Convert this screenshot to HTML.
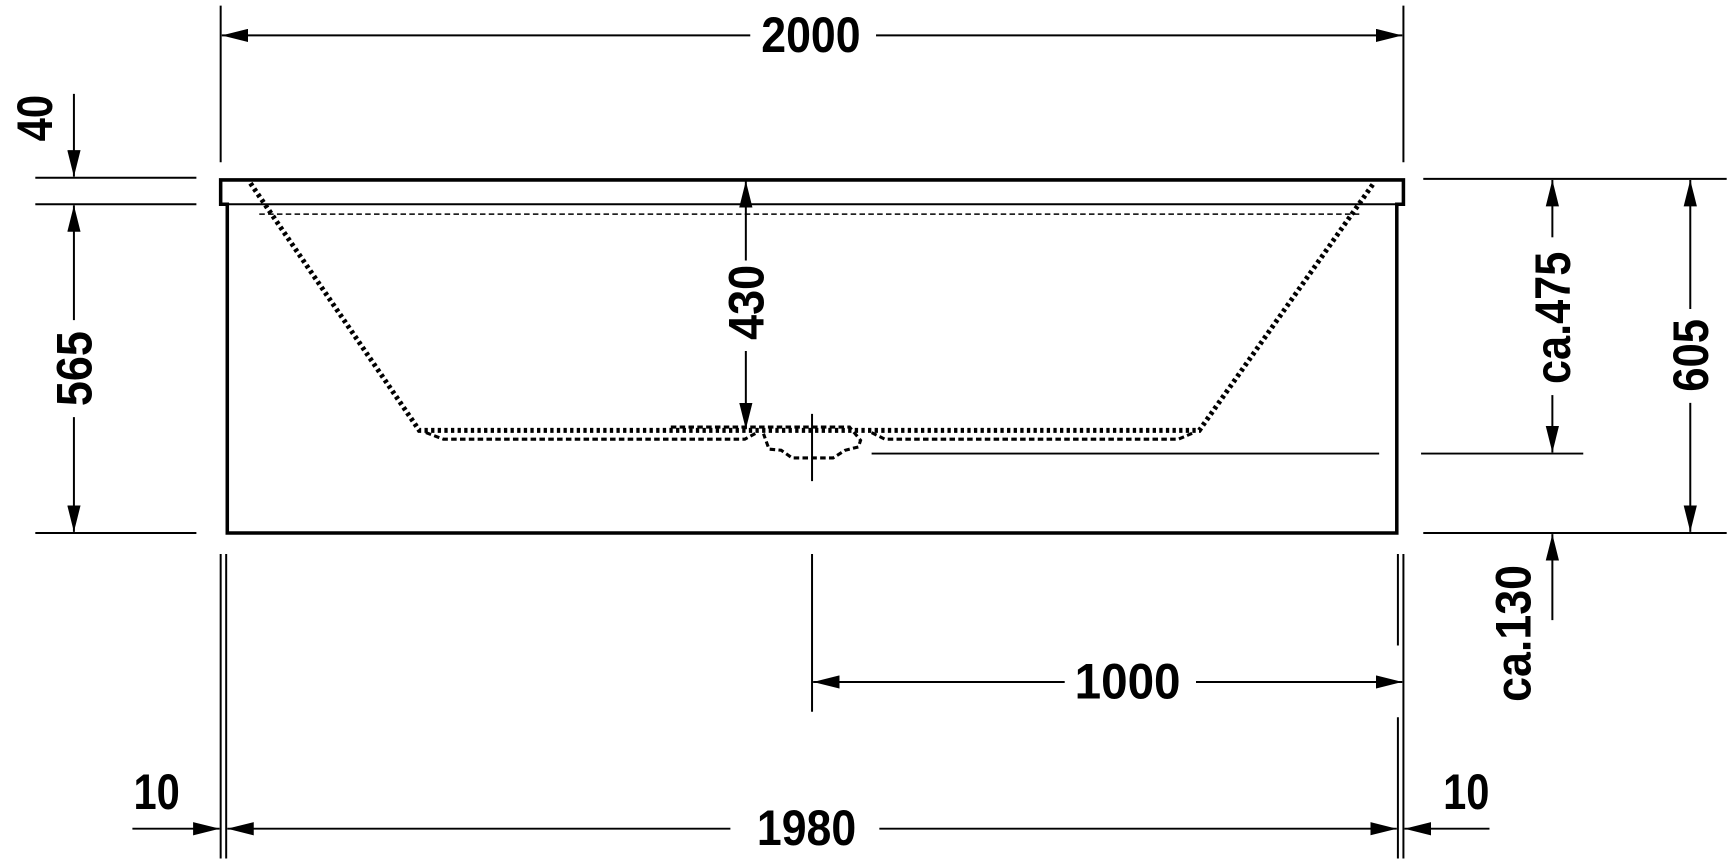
<!DOCTYPE html>
<html><head><meta charset="utf-8"><style>
html,body{margin:0;padding:0;background:#fff;}
svg{display:block;}
text{font-family:"Liberation Sans",sans-serif;font-weight:bold;font-size:45px;fill:#000;}
</style></head><body>
<svg width="1730" height="863" viewBox="0 0 1568 782" xmlns="http://www.w3.org/2000/svg">
<defs>
<marker id="a" viewBox="0 0 24 12" refX="24" refY="6" markerWidth="24" markerHeight="12" markerUnits="userSpaceOnUse" orient="auto-start-reverse">
<path d="M0,0 L24,6 L0,12 z" fill="#000"/>
</marker>
</defs>
<g stroke="#000" fill="none" stroke-width="1.8">
<line x1="200" y1="5" x2="200" y2="147"/>
<line x1="1272" y1="5" x2="1272" y2="147"/>
<line x1="201" y1="32" x2="680" y2="32" marker-start="url(#a)"/>
<line x1="794" y1="32" x2="1271" y2="32" marker-end="url(#a)"/>
<path d="M200,185 L200,163 L1272,163 L1272,185 L1266,185 L1266,483 L206,483 L206,185 Z" stroke-width="3.2"/>
<line x1="206" y1="185" x2="1266" y2="185" stroke-width="1.8"/>
<line x1="235" y1="194" x2="1232" y2="194" stroke-dasharray="5,3" stroke-width="1.3"/>
<path d="M227,166 L380,390 L1087,390 L1245,166" stroke-width="4.5" stroke-dasharray="3,3"/>
<path d="M386,392 L402,398 L675,398 L686,392 M790,392 L802,398 L1068,398 L1082,392" stroke-width="2.8" stroke-dasharray="5,3"/>
<path d="M608,387 L770,387 L780,399 L778,405 L766,408 L755,415 L718,415 L708,408 L697,407 L692,393" stroke-width="2.8" stroke-dasharray="5,3"/>
<line x1="736" y1="375" x2="736" y2="436" stroke-width="1.8"/>
<line x1="790" y1="411" x2="1250" y2="411"/>
<line x1="676" y1="236" x2="676" y2="164" marker-end="url(#a)"/>
<line x1="676" y1="318" x2="676" y2="389" marker-end="url(#a)"/>
<line x1="32" y1="161" x2="178" y2="161"/>
<line x1="32" y1="185" x2="178" y2="185"/>
<line x1="32" y1="483" x2="178" y2="483"/>
<line x1="67" y1="85" x2="67" y2="160" marker-end="url(#a)"/>
<line x1="67" y1="290" x2="67" y2="186" marker-end="url(#a)"/>
<line x1="67" y1="378" x2="67" y2="482" marker-end="url(#a)"/>
<line x1="1290" y1="162" x2="1565" y2="162"/>
<line x1="1288" y1="411" x2="1435" y2="411"/>
<line x1="1290" y1="483" x2="1565" y2="483"/>
<line x1="1407" y1="215" x2="1407" y2="163" marker-end="url(#a)"/>
<line x1="1407" y1="358" x2="1407" y2="410" marker-end="url(#a)"/>
<line x1="1532" y1="280" x2="1532" y2="163" marker-end="url(#a)"/>
<line x1="1532" y1="365" x2="1532" y2="482" marker-end="url(#a)"/>
<line x1="1407" y1="562" x2="1407" y2="484" marker-end="url(#a)"/>
<line x1="200" y1="502" x2="200" y2="778"/>
<line x1="205" y1="502" x2="205" y2="778"/>
<line x1="1267" y1="502" x2="1267" y2="585"/>
<line x1="1267" y1="650" x2="1267" y2="778"/>
<line x1="1272" y1="502" x2="1272" y2="778"/>
<line x1="736" y1="502" x2="736" y2="645"/>
<line x1="737" y1="618" x2="965" y2="618" marker-start="url(#a)"/>
<line x1="1084" y1="618" x2="1271" y2="618" marker-end="url(#a)"/>
<line x1="206" y1="751" x2="662" y2="751" marker-start="url(#a)"/>
<line x1="797" y1="751" x2="1266" y2="751" marker-end="url(#a)"/>
<line x1="120" y1="751" x2="199" y2="751" marker-end="url(#a)"/>
<line x1="1350" y1="751" x2="1273" y2="751" marker-end="url(#a)"/>
</g>
<text x="690" y="47" textLength="90" lengthAdjust="spacingAndGlyphs">2000</text>
<text x="974" y="633" textLength="96" lengthAdjust="spacingAndGlyphs">1000</text>
<text x="686" y="766" textLength="90" lengthAdjust="spacingAndGlyphs">1980</text>
<text x="121" y="733" textLength="42" lengthAdjust="spacingAndGlyphs">10</text>
<text x="1308" y="733" textLength="42" lengthAdjust="spacingAndGlyphs">10</text>
<text transform="translate(47,128) rotate(-90)" textLength="42" lengthAdjust="spacingAndGlyphs">40</text>
<text transform="translate(83,368) rotate(-90)" textLength="68" lengthAdjust="spacingAndGlyphs">565</text>
<text transform="translate(692,308) rotate(-90)" textLength="68" lengthAdjust="spacingAndGlyphs">430</text>
<text transform="translate(1423,348) rotate(-90)" textLength="120" lengthAdjust="spacingAndGlyphs">ca.475</text>
<text transform="translate(1548,355) rotate(-90)" textLength="66" lengthAdjust="spacingAndGlyphs">605</text>
<text transform="translate(1387,636) rotate(-90)" textLength="124" lengthAdjust="spacingAndGlyphs">ca.130</text>
</svg>
</body></html>
